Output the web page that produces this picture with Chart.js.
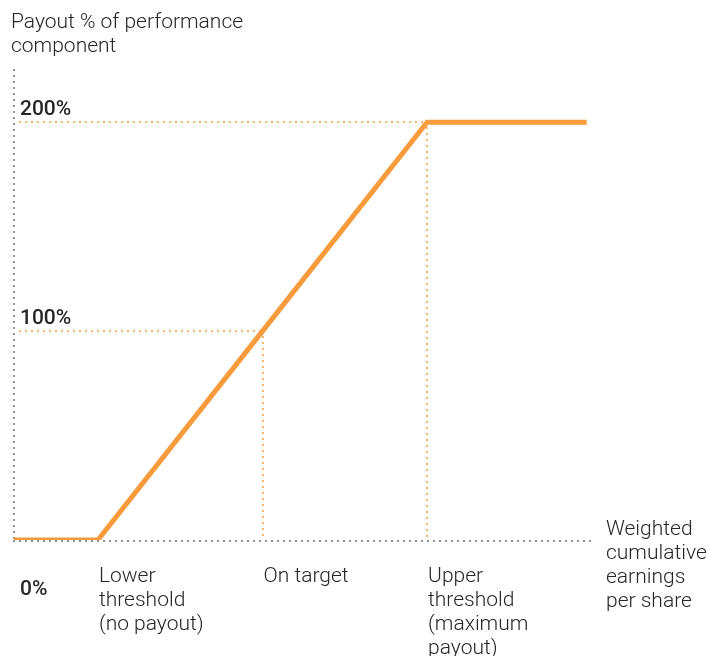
<!DOCTYPE html>
<html>
<head>
<meta charset="utf-8">
<script src="https://cdn.jsdelivr.net/npm/chart.js@4/dist/chart.umd.min.js"></script>
<style>
  html, body { margin: 0; padding: 0; background: #fff; }
  #wrap { width: 708px; height: 656px; position: relative; }
</style>
</head>
<body>
<div id="wrap"><canvas id="payoutChart"></canvas></div>
<script>
// earnings position (arbitrary units) and payout %
const xValues = [0.49, 1, 2, 3, 3.97];
const payoutValues = [0, 0, 100, 200, 200];

const yTickValues = [0, 100, 200];
const yTickLabels = ['0%', '100%', '200%'];

const xMarkValues = [1, 2, 3];
const xMarkLabels = [
    ['Lower', 'threshold', '(no payout)'],
    ['On target'],
    ['Upper', 'threshold', '(maximum', 'payout)']
];
const yTitle = ['Payout % of performance', 'component'];
const xTitle = ['Weighted', 'cumulative', 'earnings', 'per share'];

const orange = '#f79b3c';
const textColor = '#262626';
const fontFamily = 'Roboto, "Liberation Sans", sans-serif';

// dotted line drawn as small squares so the dots stay crisp
function dotted(ctx, x1, y1, x2, y2, color, size) {
    const len = Math.hypot(x2 - x1, y2 - y1);
    const n = Math.floor(len / 6);
    ctx.save();
    ctx.fillStyle = color;
    for (let i = 0; i <= n; i++) {
        const t = n === 0 ? 0 : (i * 6) / len;
        const x = x1 + (x2 - x1) * t;
        const y = y1 + (y2 - y1) * t;
        ctx.fillRect(Math.round(x) - size / 2, Math.round(y) - size / 2, size, size);
    }
    ctx.restore();
}

function lines(ctx, arr, x, y, step) {
    arr.forEach((t, i) => ctx.fillText(t, x, y + i * step));
}

const decorPlugin = {
    id: 'decor',
    beforeDatasetsDraw(chart) {
        const ctx = chart.ctx;
        const xs = chart.scales.x;
        const ys = chart.scales.y;
        const area = chart.chartArea;
        const x0 = area.left;
        const yBase = ys.getPixelForValue(0);

        // axes
        dotted(ctx, x0, area.top, x0, yBase, '#222', 1.4);
        dotted(ctx, x0, yBase + 1, area.right, yBase + 1, '#222', 1.4);

        // reference lines from the curve
        [2, 3].forEach((xv, i) => {
            const yv = yTickValues[i + 1];
            const px = xs.getPixelForValue(xv);
            const py = ys.getPixelForValue(yv);
            dotted(ctx, x0 + 6, py, px, py, orange, 1.7);
            dotted(ctx, px, py + 6, px, yBase - 3, orange, 1.7);
        });
    },
    afterDraw(chart) {
        const ctx = chart.ctx;
        const xs = chart.scales.x;
        const ys = chart.scales.y;
        const area = chart.chartArea;
        const yBase = ys.getPixelForValue(0);

        ctx.save();
        ctx.fillStyle = textColor;
        ctx.textAlign = 'left';
        ctx.textBaseline = 'middle';

        ctx.font = '300 21px ' + fontFamily;
        lines(ctx, yTitle, 11, 23, 24);

        ctx.font = '500 21px ' + fontFamily;
        yTickValues.forEach((v, i) => {
            const py = ys.getPixelForValue(v);
            const off = v === 0 ? 50 : -12;
            ctx.fillText(yTickLabels[i], area.left + 6, py + off);
        });

        ctx.font = '300 21px ' + fontFamily;
        xMarkValues.forEach((v, i) => {
            lines(ctx, xMarkLabels[i], xs.getPixelForValue(v) + 1, yBase + 37, 24);
        });
        lines(ctx, xTitle, area.right + 16, yBase - 10, 24);
        ctx.restore();
    }
};

const ctx = document.getElementById('payoutChart');
new Chart(ctx, {
    type: 'line',
    data: {
        datasets: [{
            data: xValues.map((x, i) => ({ x: x, y: payoutValues[i] })),
            borderColor: orange,
            borderWidth: 5,
            pointRadius: 0,
            fill: false,
            tension: 0,
            borderJoinStyle: 'miter',
            borderCapStyle: 'butt'
        }]
    },
    options: {
        responsive: true,
        maintainAspectRatio: false,
        animation: false,
        layout: {
            padding: { left: 14, top: 70, right: 118, bottom: 116 }
        },
        plugins: {
            legend: { display: false },
            tooltip: { enabled: false }
        },
        scales: {
            x: { type: 'linear', min: 0.49, max: 3.99, display: false },
            y: { min: 0, max: 225, display: false }
        }
    },
    plugins: [decorPlugin]
});
</script>
</body>
</html>
